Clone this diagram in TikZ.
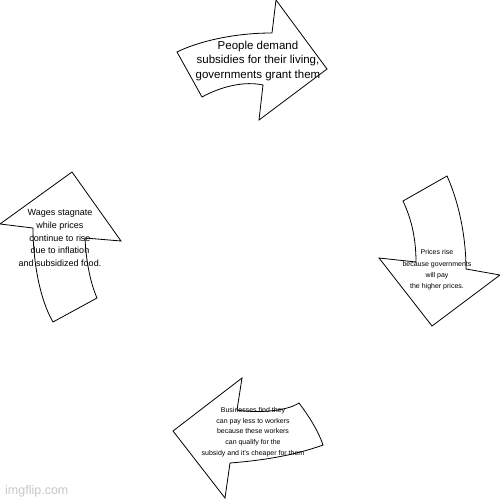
\documentclass[tikz,border=0pt]{standalone}
\usepackage{fontspec}
\setmainfont{Liberation Sans}
\usetikzlibrary{positioning}
\begin{document}
\begin{tikzpicture}[x=1pt,y=-1pt,
  arrowshape/.style={draw,fill=white,line width=0.8pt,line join=miter},
  cycletext/.style={align=center,inner sep=0pt}]
\useasboundingbox (0,0) rectangle (500,500);
\draw[arrowshape] (177,52) coordinate(T1) .. controls (195,43) and (230,33) .. (272,33) coordinate(T2) -- (276,0) coordinate(T3) -- (327,69) coordinate(T4) -- (259,120) coordinate(T5) -- (263,85) coordinate(T6) .. controls (245,81) and (222,86) .. (202,97) coordinate(T7) -- cycle;
\draw[arrowshape] (403,201) coordinate(R1) -- (447,176) coordinate(R2) .. controls (458,200) and (466,235) .. (466,269) coordinate(R3) -- (500,275) coordinate(R4) -- (432,326) coordinate(R5) -- (379,258) coordinate(R6) -- (416,262) coordinate(R7) .. controls (416,240) and (412,220) .. cycle;
\draw[arrowshape] (242,378) coordinate(B1) -- (173,431) coordinate(B2) -- (225,498) coordinate(B3) -- (230,463) coordinate(B4) .. controls (255,461) and (290,457) .. (323,445) coordinate(B5) .. controls (318,430) and (308,415) .. (299,403) coordinate(B6) .. controls (285,412) and (255,413) .. (237,410) coordinate(B7) -- cycle;
\draw[arrowshape] (72,172) coordinate(L1) -- (121,241) coordinate(L2) -- (85,238) coordinate(L3) .. controls (86,260) and (90,282) .. (97,298) coordinate(L4) -- (53,322) coordinate(L5) .. controls (40,300) and (33,262) .. (33,228) coordinate(L6) -- (0,224) coordinate(L7) -- cycle;
\node[cycletext,font=\fontsize{11.5}{14.5}\selectfont] (demand) at (258,61) {People demand\\subsidies for their living,\\governments grant them};
\node[cycletext,font=\fontsize{7}{11.3}\selectfont] (prices) at (437,270) {Prices rise\\because governments\\will pay\\the higher prices.};
\node[cycletext,font=\fontsize{7}{10.7}\selectfont] (firms) at (253,432) {Businesses find they\\can pay less to workers\\because these workers\\can qualify for the\\subsidy and it's cheaper for them};
\node[cycletext,font=\fontsize{9}{12.9}\selectfont] (wages) at (60,238) {Wages stagnate\\while prices\\continue to rise\\due to inflation\\and subsidized food.};
\node[text=black!22,font=\fontsize{12.5}{14}\selectfont,anchor=west,inner sep=0pt] (mark) at (5,491) {imgflip.com};
\end{tikzpicture}
\end{document}
